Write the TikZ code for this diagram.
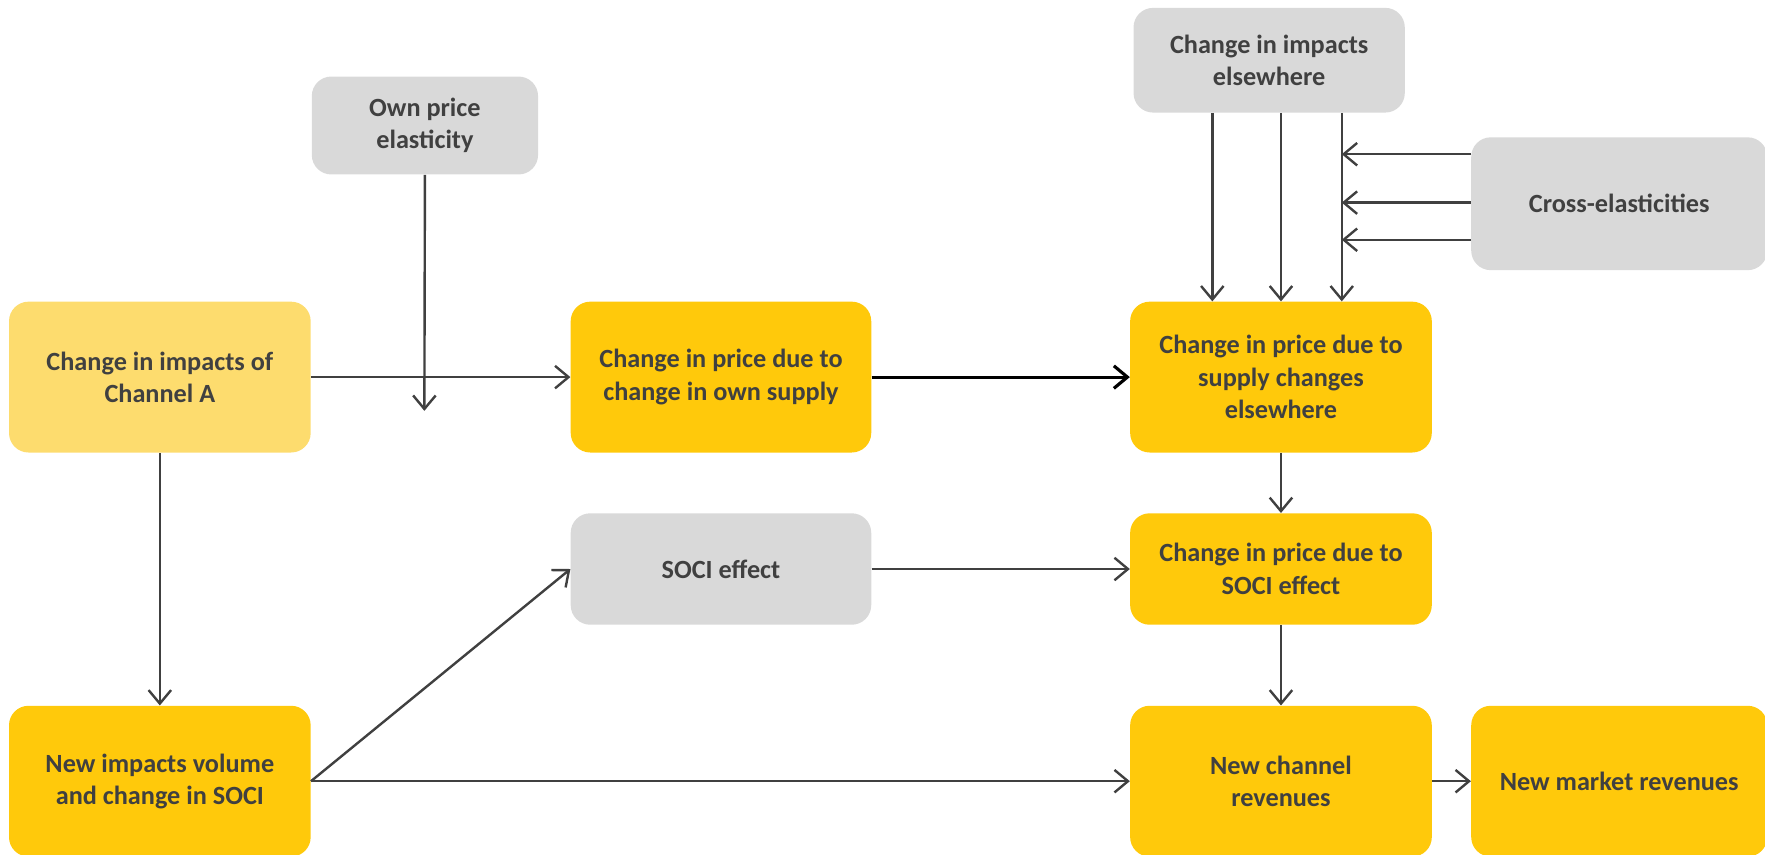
\documentclass[tikz,border=0pt]{standalone}
\usepackage{fontspec}
\setmainfont{Carlito}
\usetikzlibrary{arrows.meta}
\definecolor{lightyel}{HTML}{FDDC6E}
\definecolor{yel}{HTML}{FFC90B}
\definecolor{grayb}{HTML}{D9D9D9}
\definecolor{txt}{HTML}{404040}
\tikzset{
  box/.style={rounded corners=13pt, inner sep=0pt, align=center, text=txt,
    font=\bfseries\fontsize{17.5}{21.5}\selectfont},
  ybox/.style={box, fill=yel},
  lbox/.style={box, fill=lightyel},
  gbox/.style={box, fill=grayb},
  arr/.style={draw=txt, line width=1.6pt, -{Straight Barb[length=9pt,width=15pt,line width=1.6pt]}},
  barr/.style={draw=black, line width=2.1pt, -{Straight Barb[length=9pt,width=15pt,line width=2.1pt]}}
}
\begin{document}
\begin{tikzpicture}[x=0.75pt,y=-0.75pt]
\useasboundingbox (0,0) rectangle (1568,759);
\clip (0,0) rectangle (1568,759);
% boxes
\node[lbox, minimum width=268*0.75pt, minimum height=134*0.75pt] (A) at (142,335) {Change in impacts of\\Channel A};
\node[gbox, minimum width=201*0.75pt, minimum height=87*0.75pt] (OP) at (377.5,111.5) {Own price\\elasticity};
\node[ybox, minimum width=267*0.75pt, minimum height=134*0.75pt] (OS) at (640.5,335) {Change in price due to\\change in own supply};
\node[gbox, minimum width=241*0.75pt, minimum height=93*0.75pt] (IE) at (1127.5,53.5) {Change in impacts\\elsewhere};
\node[gbox, minimum width=263*0.75pt, minimum height=118*0.75pt] (CE) at (1438.5,181) {Cross-elasticities};
\node[ybox, minimum width=268*0.75pt, minimum height=134*0.75pt] (SE) at (1138,335) {Change in price due to\\supply changes\\elsewhere};
\node[gbox, minimum width=267*0.75pt, minimum height=99*0.75pt] (SOCI) at (640.5,505.5) {SOCI effect};
\node[ybox, minimum width=268*0.75pt, minimum height=99*0.75pt] (SP) at (1138,505.5) {Change in price due to\\SOCI effect};
\node[ybox, minimum width=268*0.75pt, minimum height=134*0.75pt] (NI) at (142,694) {New impacts volume\\and change in SOCI};
\node[ybox, minimum width=268*0.75pt, minimum height=134*0.75pt] (NC) at (1138,694) {New channel\\revenues};
\node[ybox, minimum width=263*0.75pt, minimum height=134*0.75pt] (NM) at (1438.5,694) {New market revenues};
% helper coordinates
\coordinate (opend) at (377,365);
\coordinate (x1) at (1077,0);
\coordinate (x2) at (1138,0);
\coordinate (x3) at (1192,0);
\coordinate (y1) at (0,137);
\coordinate (y2) at (0,180);
\coordinate (y3) at (0,213);
% connectors
\draw[arr] (A.east) -- (OS.west);
\draw[arr] (OP.south) -- (opend);
\draw[barr] (OS.east) -- (SE.west);
\draw[arr] (IE.south -| x1) -- (SE.north -| x1);
\draw[arr] (IE.south -| x2) -- (SE.north -| x2);
\draw[arr] (IE.south -| x3) -- (SE.north -| x3);
\draw[arr] (CE.west |- y1) -- (x3 |- y1);
\draw[arr] (CE.west |- y2) -- (x3 |- y2);
\draw[arr] (CE.west |- y3) -- (x3 |- y3);
\draw[arr] (SE.south) -- (SP.north);
\draw[arr] (SOCI.east) -- (SP.west);
\draw[arr] (SP.south) -- (NC.north);
\draw[arr] (A.south) -- (NI.north);
\draw[arr] (NI.east) -- (SOCI.west);
\draw[arr] (NI.east) -- (NC.west);
\draw[arr] (NC.east) -- (NM.west);
\end{tikzpicture}
\end{document}
